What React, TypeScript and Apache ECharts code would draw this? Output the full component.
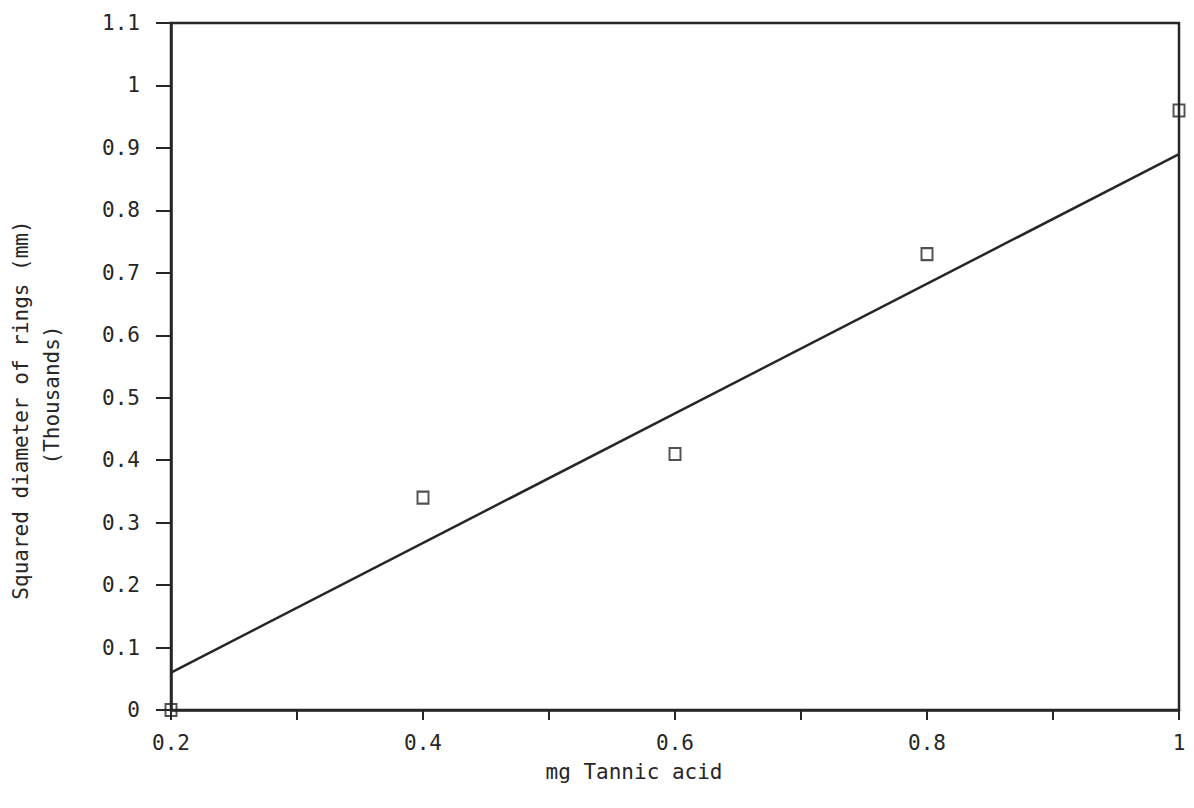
import React, { useEffect, useRef } from "react";
import * as echarts from "echarts";

// Data
const doseX = [0.2, 0.4, 0.6, 0.8, 1.0];
const squaredDiameter = [0, 0.34, 0.41, 0.73, 0.96];
const fitLineX = [0.2, 1.0];
const fitLineY = [0.06, 0.89];

const xTitle = "mg Tannic acid";
const yTitleLine1 = "Squared diameter of rings (mm)";
const yTitleLine2 = "(Thousands)";

const FONT = "'DejaVu Sans Mono', monospace";
const INK = "#262626";
const FS = 21;

export default function App() {
  const ref = useRef<HTMLDivElement>(null);

  useEffect(() => {
    if (!ref.current) return;
    const chart = echarts.init(ref.current, null, { renderer: "svg" });
    const fmt = (v: number) => String(+Number(v).toFixed(1));
    chart.setOption({
      animation: false,
      backgroundColor: "#ffffff",
      grid: {
        left: 171,
        right: 15,
        top: 23,
        bottom: 98,
        show: true,
        borderColor: INK,
        borderWidth: 2.5,
        backgroundColor: "transparent",
      },
      xAxis: {
        type: "value",
        min: 0.2,
        max: 1.0,
        interval: 0.1,
        axisLine: { show: true, lineStyle: { color: INK, width: 2.5 } },
        axisTick: { show: true, inside: false, length: 10, lineStyle: { color: INK, width: 2 } },
        splitLine: { show: false },
        axisLabel: {
          margin: 22,
          color: INK,
          fontFamily: FONT,
          fontSize: FS,
          formatter: (v: number) => (Math.round(v * 10) % 2 === 0 ? fmt(v) : ""),
        },
      },
      yAxis: {
        type: "value",
        min: 0,
        max: 1.1,
        interval: 0.1,
        axisLine: { show: true, lineStyle: { color: INK, width: 2.5 } },
        axisTick: { show: true, inside: false, length: 15, lineStyle: { color: INK, width: 2 } },
        splitLine: { show: false },
        axisLabel: {
          margin: 31,
          color: INK,
          fontFamily: FONT,
          fontSize: FS,
          formatter: (v: number) => fmt(v),
        },
      },
      graphic: [
        {
          type: "text",
          x: 634,
          y: 772,
          style: {
            text: xTitle,
            fill: INK,
            font: `${FS}px ${FONT}`,
            align: "center",
            verticalAlign: "middle",
          },
        },
        {
          type: "text",
          x: 21,
          y: 410,
          rotation: Math.PI / 2,
          style: {
            text: yTitleLine1,
            fill: INK,
            font: `${FS}px ${FONT}`,
            align: "center",
            verticalAlign: "middle",
          },
        },
        {
          type: "text",
          x: 52,
          y: 395,
          rotation: Math.PI / 2,
          style: {
            text: yTitleLine2,
            fill: INK,
            font: `${FS}px ${FONT}`,
            align: "center",
            verticalAlign: "middle",
          },
        },
      ],
      series: [
        {
          type: "line",
          data: fitLineX.map((x, i) => [x, fitLineY[i]]),
          symbol: "none",
          lineStyle: { color: INK, width: 2.5 },
          z: 3,
        },
        {
          type: "scatter",
          data: doseX.map((x, i) => [x, squaredDiameter[i]]),
          symbol: "rect",
          symbolSize: [11, 12],
          clip: false,
          itemStyle: { color: "rgba(0,0,0,0)", borderColor: INK, borderWidth: 2 },
          z: 4,
        },
      ],
    });
    return () => chart.dispose();
  }, []);

  return (
    <div
      ref={ref}
      style={{ position: "fixed", left: 0, top: 0, width: 1194, height: 808, background: "#fff" }}
    />
  );
}
